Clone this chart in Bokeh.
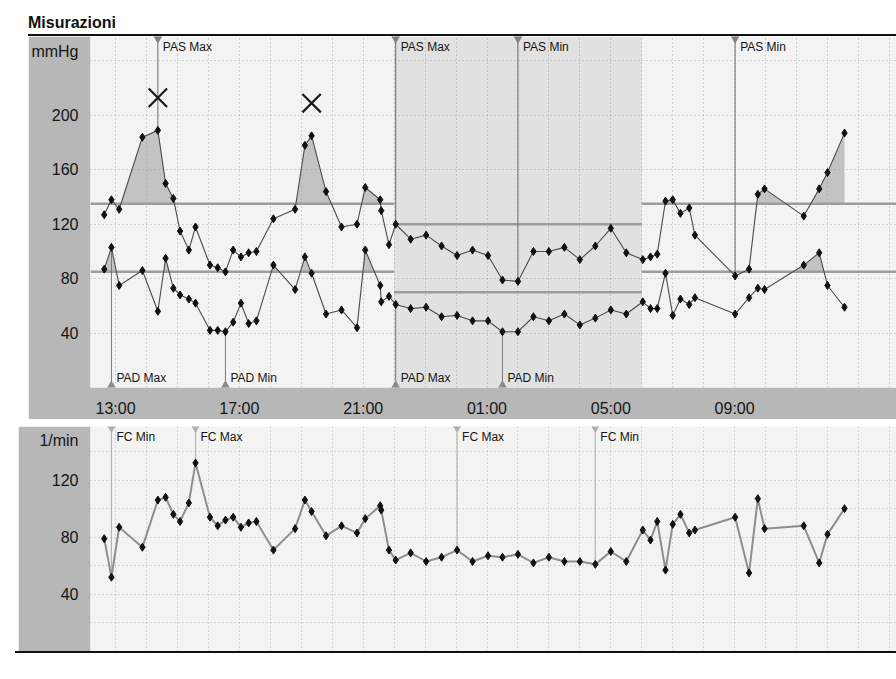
import numpy as np
from bokeh.plotting import figure
from bokeh.models import FixedTicker, BoxAnnotation, Div, Spacer, Range1d
from bokeh.layouts import column, row
from bokeh.core.properties import value
from bokeh.embed import file_html
from bokeh.resources import INLINE

# ---------------- data ----------------
times = ["12:38", "12:52", "13:07", "13:52", "14:22", "14:37", "14:52", "15:05", "15:22", "15:35",
         "16:03", "16:18", "16:33", "16:48", "17:03", "17:18", "17:33", "18:06", "18:48", "19:07",
         "19:20", "19:48", "20:18", "20:48", "21:04", "21:33", "21:35", "21:50", "22:03", "22:32",
         "23:02", "23:32", "00:02", "00:32", "01:02", "01:30", "02:00", "02:30", "03:00", "03:30",
         "04:00", "04:30", "05:00", "05:30", "06:02", "06:17", "06:30", "06:46", "07:00", "07:15",
         "07:32", "07:43", "09:01", "09:28", "09:45", "09:58", "11:14", "11:44", "12:00", "12:33"]
pas = [127, 138, 131, 184, 189, 150, 139, 115, 101, 118,
       90, 88, 85, 101, 96, 99, 100, 124, 131, 178,
       185, 144, 118, 120, 147, 138, 130, 105, 120, 109,
       112, 104, 97, 101, 97, 79, 78, 100, 100, 103,
       94, 104, 117, 99, 94, 96, 98, 137, 138, 128,
       132, 112, 82, 87, 142, 146, 126, 146, 158, 187]
pad = [87, 103, 75, 86, 56, 95, 73, 68, 65, 62,
       42, 42, 41, 48, 62, 47, 49, 90, 72, 96,
       84, 54, 57, 44, 101, 75, 63, 67, 61, 58,
       59, 52, 53, 49, 49, 41, 41, 52, 49, 54,
       46, 51, 57, 54, 63, 58, 58, 84, 53, 65,
       61, 66, 54, 66, 73, 72, 90, 99, 75, 59]
fc = [79, 52, 87, 73, 106, 108, 96, 91, 104, 132,
      94, 88, 92, 94, 87, 90, 91, 71, 86, 106,
      98, 81, 88, 83, 93, 102, 99, 71, 64, 69,
      63, 66, 71, 63, 67, 66, 68, 62, 66, 63,
      63, 61, 70, 63, 85, 78, 91, 57, 89, 96,
      83, 85, 94, 55, 107, 86, 88, 62, 82, 100]
tick_labels = ["13:00", "17:00", "21:00", "01:00", "05:00", "09:00"]
night_bounds = ["22:00", "06:00"]
thr_day_pas, thr_day_pad = 135, 85
thr_night_pas, thr_night_pad = 120, 70
mmhg_ticks = [40, 80, 120, 160, 200]
mmhg_grid = [40, 80, 120, 160, 200, 240]
fc_ticks = [40, 80, 120]
fc_grid = [20, 40, 60, 80, 100, 120, 140]

# ---------------- helpers ----------------
def to_hours(seq):
    out, off, prev = [], 0.0, None
    for s in seq:
        h, m = map(int, s.split(":"))
        v = h + m / 60.0 + off
        if prev is not None and v < prev:
            off += 24.0
            v += 24.0
        out.append(v)
        prev = v
    return out

t = np.array(to_hours(times))
tick_pos = to_hours(tick_labels)
NS, NE = to_hours(night_bounds)
XMIN, XMAX = 12.19, 38.23
YMAX1, YMAX2 = 258, 157.5
hour_grid = list(range(13, 39))

day = (t < NS) | (t >= NE)
night = ~day

def pick(vals, mask, fn):
    idx = np.where(mask)[0]
    return int(idx[fn(np.asarray(vals)[idx])])

FONT = value("Liberation Sans")
PAPER = "#f3f3f3"
BAND = "#b7b7b7"
Z = (0, 0, 0, 0)

def style_axes(p, yticks, extra_tick, extra_label):
    p.yaxis.ticker = FixedTicker(ticks=yticks + [extra_tick])
    p.yaxis.major_label_overrides = {extra_tick: extra_label}
    for ax in (p.xaxis, p.yaxis):
        ax.axis_line_color = None
        ax.major_tick_line_color = None
        ax.minor_tick_line_color = None
        ax.major_label_text_font = "Liberation Sans"
        ax.major_label_text_font_size = "16px"
        ax.major_label_text_color = "#151515"
        ax.major_label_standoff = 6

def make_fig(w, h, left, bottom, ymax):
    p = figure(width=w, height=h, x_range=Range1d(XMIN, XMAX), y_range=Range1d(0, ymax),
               output_backend="svg", toolbar_location=None,
               min_border_left=left, min_border_right=0, min_border_top=0,
               min_border_bottom=bottom, margin=Z)
    p.border_fill_color = BAND
    p.background_fill_color = PAPER
    p.outline_line_color = None
    return p

# ---------------- top chart: blood pressure ----------------
p1 = make_fig(868, 383, 62, 28, YMAX1)
style_axes(p1, mmhg_ticks, 247, "mmHg")
p1.xaxis.ticker = FixedTicker(ticks=tick_pos)
p1.xaxis.major_label_overrides = dict(zip(tick_pos, tick_labels))
p1.xgrid.ticker = FixedTicker(ticks=hour_grid)
p1.ygrid.ticker = FixedTicker(ticks=mmhg_grid)
for g in (p1.xgrid, p1.ygrid):
    g.grid_line_color = "#8f8f8f"
    g.grid_line_dash = "1 3"
    g.grid_line_alpha = 0.7

p1.add_layout(BoxAnnotation(left=NS, right=NE, fill_color="#000000", fill_alpha=0.07,
                            line_color=None, level="underlay"))

# areas above the thresholds
tt = np.linspace(t[0], t[-1], 4000)
is_night = (tt >= NS) & (tt < NE)
for vals, dthr, nthr in ((pas, thr_day_pas, thr_night_pas), (pad, thr_day_pad, thr_night_pad)):
    thr = np.where(is_night, nthr, dthr)
    curve = np.interp(tt, t, vals)
    p1.varea(x=tt, y1=thr, y2=np.maximum(curve, thr), fill_color="#9a9a9a", fill_alpha=0.55)

# threshold lines
seg_x0 = [XMIN, NS, NE]
seg_x1 = [NS, NE, XMAX]
p1.segment(x0=seg_x0, x1=seg_x1, y0=[thr_day_pas, thr_night_pas, thr_day_pas],
           y1=[thr_day_pas, thr_night_pas, thr_day_pas], line_color="#9c9c9c", line_width=2.5)
p1.segment(x0=seg_x0, x1=seg_x1, y0=[thr_day_pad, thr_night_pad, thr_day_pad],
           y1=[thr_day_pad, thr_night_pad, thr_day_pad], line_color="#9c9c9c", line_width=2.5)

# min / max markers
top_marks = [("PAS Max", pick(pas, day, np.argmax)), ("PAS Max", pick(pas, night, np.argmax)),
             ("PAS Min", pick(pas, night, np.argmin)), ("PAS Min", pick(pas, day, np.argmin))]
bot_marks = [("PAD Max", pick(pad, day, np.argmax)), ("PAD Min", pick(pad, day, np.argmin)),
             ("PAD Max", pick(pad, night, np.argmax)), ("PAD Min", pick(pad, night, np.argmin))]
tx = [t[i] for _, i in top_marks]
bx = [t[i] for _, i in bot_marks]
p1.segment(x0=tx, x1=tx, y0=[YMAX1] * 4, y1=[pas[i] for _, i in top_marks],
           line_color="#6e6e6e", line_width=1)
p1.segment(x0=bx, x1=bx, y0=[0] * 4, y1=[pad[i] for _, i in bot_marks],
           line_color="#7a7a7a", line_width=1)
p1.scatter(tx, [YMAX1] * 4, marker="inverted_triangle", size=11, color="#808080")
p1.scatter(bx, [0] * 4, marker="triangle", size=11, color="#8a8a8a")
p1.text(tx, [YMAX1] * 4, text=[n for n, _ in top_marks], text_font=FONT, text_font_size="12px",
        text_baseline="top", x_offset=5, y_offset=3, text_color="#151515")
p1.text(bx, [0] * 4, text=[n for n, _ in bot_marks], text_font=FONT, text_font_size="12px",
        text_baseline="bottom", x_offset=5, y_offset=-3, text_color="#151515")

# series
for vals in (pas, pad):
    p1.line(t, vals, line_color="#4a4a4a", line_width=1.1)
    p1.scatter(t, vals, marker="diamond", size=8, color="#111111")

# hand-written crosses over the two peaks
pk = [i for i in range(1, len(pas) - 1) if pas[i] > pas[i - 1] and pas[i] > pas[i + 1] and pas[i] > 170]
p1.scatter([t[i] for i in pk], [pas[i] + 24 for i in pk], marker="x", size=26,
           line_color="#1a1a1a", line_width=2.2)

# ---------------- bottom chart: heart rate ----------------
p2 = make_fig(878, 225, 72, 0, YMAX2)
style_axes(p2, fc_ticks, 148, "1/min")
p2.xaxis.visible = False
p2.xgrid.ticker = FixedTicker(ticks=hour_grid)
p2.ygrid.ticker = FixedTicker(ticks=fc_grid)
for g in (p2.xgrid, p2.ygrid):
    g.grid_line_color = "#8f8f8f"
    g.grid_line_dash = "1 3"
    g.grid_line_alpha = 0.6

fc_marks = [("FC Min", pick(fc, day, np.argmin)), ("FC Max", pick(fc, day, np.argmax)),
            ("FC Max", pick(fc, night, np.argmax)), ("FC Min", pick(fc, night, np.argmin))]
fx = [t[i] for _, i in fc_marks]
p2.segment(x0=fx, x1=fx, y0=[YMAX2] * 4, y1=[fc[i] for _, i in fc_marks],
           line_color="#b5b5b5", line_width=1.2)
p2.scatter(fx, [YMAX2] * 4, marker="inverted_triangle", size=10, color="#b0b0b0")
p2.text(fx, [YMAX2] * 4, text=[n for n, _ in fc_marks], text_font=FONT, text_font_size="12px",
        text_baseline="top", x_offset=5, y_offset=3, text_color="#151515")
p2.line(t, fc, line_color="#8e8e8e", line_width=2)
p2.scatter(t, fc, marker="diamond", size=8, color="#111111")

# ---------------- page ----------------
title = Div(text="Misurazioni", width=868, height=22, margin=Z,
            styles={"font-family": "'Liberation Sans', Arial, sans-serif", "font-weight": "bold",
                    "font-size": "16px", "color": "#111111"})
rule_top = Div(text="", width=868, height=2, margin=Z, styles={"background-color": "#111111"})
rule_bottom = Div(text="", width=881, height=2, margin=Z, styles={"background-color": "#111111"})

layout = column(
    Spacer(width=896, height=12, margin=Z),
    row(Spacer(width=28, height=22, margin=Z), title),
    row(Spacer(width=28, height=2, margin=Z), rule_top),
    row(Spacer(width=28, height=383, margin=Z), p1),
    Spacer(width=896, height=7, margin=Z),
    row(Spacer(width=18, height=225, margin=Z), p2),
    row(Spacer(width=15, height=2, margin=Z), rule_bottom),
)

open("out.html", "w").write(file_html(layout, INLINE))
